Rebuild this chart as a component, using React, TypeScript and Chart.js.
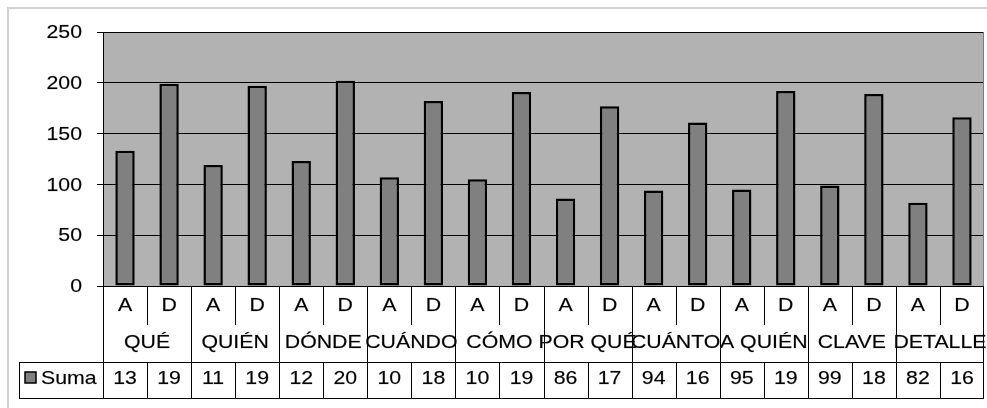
import React, { useEffect, useRef } from "react";
import { Chart, registerables } from "chart.js";

Chart.register(...registerables);

const groups = ["QUÉ", "QUIÉN", "DÓNDE", "CUÁNDO", "CÓMO", "POR QUÉ", "CUÁNTO", "A QUIÉN", "CLAVE", "DETALLE"];
const subLabels = ["A", "D"];
const categories = groups.flatMap((g) => subLabels.map((s) => g + " " + s));
const seriesName = "Suma";
const sumaValues = [133, 199, 119, 197, 123, 202, 107, 182, 105, 191, 86, 177, 94, 161, 95, 192, 99, 189, 82, 166];
const tableText = ["13", "19", "11", "19", "12", "20", "10", "18", "10", "19", "86", "17", "94", "16", "95", "19", "99", "18", "82", "16"];
const yMin = 0;
const yMax = 250;
const yStep = 50;

const W = 987;
const H = 408;
const FONT = "19px 'Liberation Sans', Arial, sans-serif";
const STRETCH = 1.12;

function stretchedText(ctx: CanvasRenderingContext2D, text: string, x: number, y: number, align: CanvasTextAlign) {
  ctx.save();
  ctx.translate(x, y);
  ctx.scale(STRETCH, 1);
  ctx.font = FONT;
  ctx.fillStyle = "#000";
  ctx.strokeStyle = "rgba(0,0,0,0.35)";
  ctx.lineWidth = 0.5;
  ctx.textAlign = align;
  ctx.textBaseline = "middle";
  ctx.fillText(text, 0, 0);
  ctx.strokeText(text, 0, 0);
  ctx.restore();
}

const tablePlugin = {
  id: "dataTable",
  beforeDraw(chart: any) {
    const { ctx, chartArea: a } = chart;
    ctx.save();
    ctx.fillStyle = "#fff";
    ctx.fillRect(0, 0, W, H);
    ctx.fillStyle = "#b2b2b2";
    ctx.fillRect(a.left, a.top, a.right - a.left, a.bottom - a.top);
    ctx.strokeStyle = "#d2d2d2";
    ctx.lineWidth = 2;
    ctx.beginPath();
    ctx.moveTo(8, H);
    ctx.lineTo(8, 8);
    ctx.lineTo(W, 8);
    ctx.stroke();
    ctx.restore();
  },
  afterDraw(chart: any) {
    const { ctx, chartArea: a } = chart;
    const xs = chart.scales.x;
    const ys = chart.scales.y;
    const n = categories.length;
    const colW = (a.right - a.left) / n;
    const row1 = 325;
    const row2 = 362;
    const row3 = 398;
    const legLeft = 19;
    const px = (v: number) => Math.round(v) + 0.5;
    ctx.save();
    ctx.strokeStyle = "#7a7a7a";
    ctx.lineWidth = 1;
    ctx.beginPath();
    ctx.moveTo(px(a.right) - 1, a.top);
    ctx.lineTo(px(a.right) - 1, a.bottom);
    ctx.stroke();

    ctx.strokeStyle = "#000";
    ctx.beginPath();
    for (let j = 0; j <= n; j++) {
      const x = px(a.left + j * colW) - (j === n ? 1 : 0);
      let y1: number;
      if (j === 0 || j === n) {
        y1 = row3;
      } else if (j % 2 === 1) {
        y1 = row1;
      } else {
        y1 = row2;
      }
      ctx.moveTo(x, a.bottom);
      ctx.lineTo(x, y1);
      if (j !== 0 && j !== n) {
        ctx.moveTo(x, row2);
        ctx.lineTo(x, row3);
      }
    }
    ctx.moveTo(px(legLeft), row2);
    ctx.lineTo(px(legLeft), row3);
    ctx.moveTo(legLeft, row2 + 0.5);
    ctx.lineTo(a.right, row2 + 0.5);
    ctx.moveTo(legLeft, row3 + 0.5);
    ctx.lineTo(a.right, row3 + 0.5);
    ctx.stroke();

    ctx.fillStyle = "#808080";
    ctx.fillRect(25, 372, 11, 11);
    ctx.strokeStyle = "#000";
    ctx.lineWidth = 1.5;
    ctx.strokeRect(25, 372, 11, 11);
    ctx.restore();

    stretchedText(ctx, seriesName, 41, 379, "left");

    for (let i = 0; i < n; i++) {
      const cx = xs.getPixelForValue(i);
      stretchedText(ctx, subLabels[i % 2], cx, 306, "center");
      stretchedText(ctx, tableText[i], cx, 379, "center");
    }
    for (let g = 0; g < groups.length; g++) {
      const cx = (xs.getPixelForValue(2 * g) + xs.getPixelForValue(2 * g + 1)) / 2;
      stretchedText(ctx, groups[g], cx, 343, "center");
    }
    for (const t of ys.ticks) {
      stretchedText(ctx, String(t.value), 82, ys.getPixelForValue(t.value) + 1, "right");
    }
  },
};

export default function App() {
  const ref = useRef<HTMLCanvasElement>(null);
  useEffect(() => {
    if (!ref.current) return;
    const chart = new Chart(ref.current, {
      type: "bar",
      data: {
        labels: categories,
        datasets: [
          {
            label: seriesName,
            data: sumaValues,
            backgroundColor: "#808080",
            borderColor: "#000",
            borderWidth: 2.5,
            borderSkipped: false,
            categoryPercentage: 1,
            barPercentage: 0.44,
          },
        ],
      },
      options: {
        responsive: false,
        animation: false,
        events: [],
        layout: { padding: { left: 0, top: 32, right: 3, bottom: H - 286 } },
        plugins: { legend: { display: false }, tooltip: { enabled: false } },
        scales: {
          x: {
            display: true,
            ticks: { display: false },
            grid: { display: false },
            border: { display: false },
            afterFit: (s: any) => {
              s.height = 0;
            },
          },
          y: {
            min: yMin,
            max: yMax,
            ticks: { stepSize: yStep, display: false },
            grid: { color: "#000", lineWidth: 1, drawTicks: true, tickLength: 6, tickColor: "#000" },
            border: { display: true, color: "#000", width: 1 },
            afterFit: (s: any) => {
              s.width = 103;
            },
          },
        },
      },
      plugins: [tablePlugin],
    });
    return () => chart.destroy();
  }, []);
  return (
    <div style={{ position: "absolute", left: 0, top: 0, width: W, height: H }}>
      <canvas ref={ref} width={W} height={H} style={{ display: "block", width: W, height: H }} />
    </div>
  );
}
